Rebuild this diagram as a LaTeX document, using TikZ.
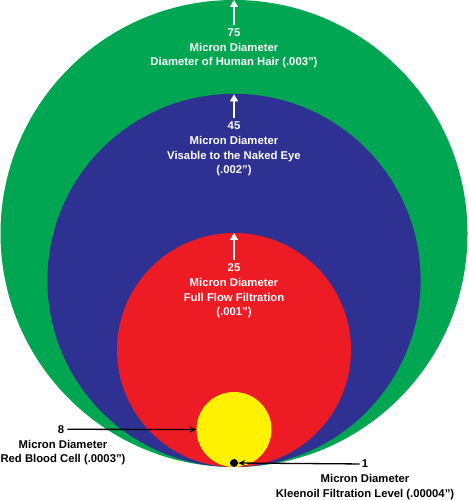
\documentclass[tikz,border=0pt]{standalone}
\usepackage{fontspec}
\setmainfont{Liberation Sans}
\usetikzlibrary{arrows.meta,positioning}
\definecolor{hairgreen}{HTML}{00A651}
\definecolor{eyeblue}{HTML}{2E3192}
\definecolor{flowred}{HTML}{ED1C24}
\definecolor{cellyellow}{HTML}{FFF200}

\begin{document}
\begin{tikzpicture}[
  x=1pt,
  y=1pt,
  size/.style={font=\bfseries\fontsize{11.3}{14.5}\selectfont, align=center, inner sep=0pt},
  onfill/.style={size, text=white},
  upline/.style={-{Triangle[length=7pt, width=8pt]}, draw=white, line width=1.6pt},
  callout/.style={-{Stealth[length=7pt, width=6pt]}, draw=black, line width=1.3pt}
]
  \useasboundingbox (0,0) rectangle (468,500);
  \fill[white] (0,0) rectangle (468,500);

  % nested circles, all touching at the bottom
  \fill[hairgreen] (234,266.5) circle (233.5pt);
  \fill[eyeblue] (234,219.6) circle (186.6pt);
  \fill[flowred] (234,150) circle (117pt);
  \fill[cellyellow] (234,70.5) circle (37.5pt);
  \node[circle, fill=black, inner sep=0pt, minimum size=8pt] (kdot) at (234,37) {};

  \coordinate (gtop) at (234,500);
  \coordinate (btop) at (234,405.6);
  \coordinate (rtop) at (234,267);
  \coordinate (yleft) at (196.5,70.5);

  % labels inside the circles
  \node[onfill] (n75) at (234,467.7) {75};
  \node[onfill, below=6.4pt of n75] (d75) {Micron Diameter\\Diameter of Human Hair (.003”)};
  \node[onfill] (n45) at (234,374) {45};
  \node[onfill, below=6.4pt of n45] (d45) {Micron Diameter\\Visable to the Naked Eye\\(.002”)};
  \node[onfill] (n25) at (234,232.3) {25};
  \node[onfill, below=6.4pt of n25] (d25) {Micron Diameter\\Full Flow Filtration\\(.001”)};

  % labels outside
  \node[size] (n8) at (61,70.7) {8};
  \node[size, below=6.4pt of n8, xshift=2pt] (d8) {Micron Diameter\\Red Blood Cell (.0003”)};
  \node[size] (n1) at (365,36) {1};
  \node[size, below=6.4pt of n1] (d1) {Micron Diameter\\Kleenoil Filtration Level (.00004”)};

  \draw[upline, shorten <=3.5pt] (n75) -- (gtop);
  \draw[upline, shorten <=3.5pt] (n45) -- (btop);
  \draw[upline, shorten <=3.5pt] (n25) -- (rtop);
  \draw[callout, shorten <=3pt] (n8) -- (yleft);
  \draw[callout, shorten <=2pt] (n1) -- (kdot);
\end{tikzpicture}
\end{document}
